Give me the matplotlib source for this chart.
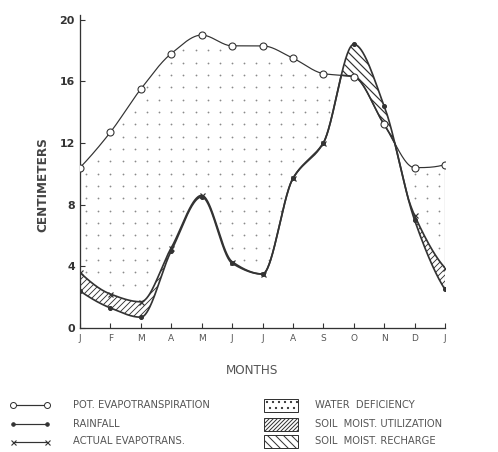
import numpy as np
import matplotlib
matplotlib.use("Agg")
import matplotlib.pyplot as plt
from matplotlib.patches import Rectangle

# ---- data (centimeters) ----
months = ["J", "F", "M", "A", "M", "J", "J", "A", "S", "O", "N", "D", "J"]
pot_et = [10.4, 12.7, 15.5, 17.8, 19.0, 18.3, 18.3, 17.5, 16.5, 16.3, 13.2, 10.4, 10.6]
rainfall = [2.4, 1.3, 0.7, 5.0, 8.5, 4.2, 3.5, 9.7, 12.0, 18.4, 14.4, 7.0, 2.5]
actual_et = [3.6, 2.2, 1.7, 5.2, 8.6, 4.3, 3.5, 9.7, 12.0, 16.3, 13.2, 7.3, 3.9]
y_ticks = [0, 4, 8, 12, 16, 20]

legend_lines = ["POT. EVAPOTRANSPIRATION", "RAINFALL", "ACTUAL EVAPOTRANS."]
legend_areas = ["WATER  DEFICIENCY", "SOIL  MOIST. UTILIZATION", "SOIL  MOIST. RECHARGE"]

INK = "#333333"
GREY = "#555555"


def pchip_slopes(x, y):
    h = np.diff(x)
    d = np.diff(y) / h
    n = len(y)
    m = np.zeros(n)
    for k in range(1, n - 1):
        if d[k - 1] * d[k] > 0:
            w1 = 2 * h[k] + h[k - 1]
            w2 = h[k] + 2 * h[k - 1]
            m[k] = (w1 + w2) / (w1 / d[k - 1] + w2 / d[k])

    def end(h0, h1, d0, d1):
        s = ((2 * h0 + h1) * d0 - h0 * d1) / (h0 + h1)
        if np.sign(s) != np.sign(d0):
            return 0.0
        if np.sign(d0) != np.sign(d1) and abs(s) > abs(3 * d0):
            return 3 * d0
        return s

    m[0] = end(h[0], h[1], d[0], d[1])
    m[-1] = end(h[-1], h[-2], d[-1], d[-2])
    return m


def smooth(xm, ym, n=60):
    """Shape-preserving cubic curve through the monthly points."""
    xm = np.asarray(xm, float)
    ym = np.asarray(ym, float)
    m = pchip_slopes(xm, ym)
    xs, ys = [], []
    for i in range(len(xm) - 1):
        t = np.linspace(0, 1, n, endpoint=False)
        h = xm[i + 1] - xm[i]
        h00 = 2 * t**3 - 3 * t**2 + 1
        h10 = t**3 - 2 * t**2 + t
        h01 = -2 * t**3 + 3 * t**2
        h11 = t**3 - t**2
        xs.append(xm[i] + t * h)
        ys.append(h00 * ym[i] + h10 * h * m[i] + h01 * ym[i + 1] + h11 * h * m[i + 1])
    xs.append([xm[-1]])
    ys.append([ym[-1]])
    return np.concatenate(xs), np.concatenate(ys)


mx = np.arange(len(months))
xf, pet_f = smooth(mx, pot_et)
_, rain_f = smooth(mx, rainfall)
_, aet_f = smooth(mx, actual_et)
lower = np.minimum(np.maximum(aet_f, rain_f), pet_f)

W, H = 498, 452
fig = plt.figure(figsize=(W / 72, H / 72), dpi=72)

ax = fig.add_axes([80 / W, (H - 328) / H, (445 - 80) / W, (328 - 15) / H])
ax.set_xlim(0, 12)
ax.set_ylim(0, 20.3)

# water deficiency (stipple of small dots between actual and potential ET)
gx, gy = np.meshgrid(np.arange(0.2, 12, 0.4), np.arange(0.4, 20.3, 0.8))
gx, gy = gx.ravel(), gy.ravel()
inside = (gy > np.interp(gx, xf, lower) + 0.35) & (gy < np.interp(gx, xf, pet_f) - 0.35)
ax.scatter(gx[inside], gy[inside], s=3.2, color="#8a8a8a", linewidths=0, zorder=1)

# soil moisture utilization
plt.rcParams["hatch.linewidth"] = 0.9
ax.fill_between(xf, rain_f, lower, where=lower > rain_f + 0.02, interpolate=True,
                facecolor="white", edgecolor=INK, hatch="////", linewidth=0, zorder=2)
# soil moisture recharge
plt.rcParams["hatch.linewidth"] = 1.2
ax.fill_between(xf, pet_f, rain_f, where=rain_f > pet_f, interpolate=True,
                facecolor="white", edgecolor=INK, hatch="\\\\\\", linewidth=0, zorder=2)

# lines
ax.plot(xf, pet_f, color=INK, lw=1.2, zorder=4)
ax.plot(xf, rain_f, color=INK, lw=1.7, zorder=4)
ax.plot(xf, lower, color=INK, lw=1.7, zorder=4)
ax.vlines(mx[-1], rainfall[-1], pot_et[-1], color=INK, lw=1.1, zorder=4)

ax.plot(mx, pot_et, "o", ms=7, mfc="white", mec=INK, mew=1.1, zorder=5)
ax.plot(mx, rainfall, "o", ms=4, mfc=INK, mec=INK, zorder=5)
aet_arr = np.array(actual_et)
show = aet_arr < np.array(pot_et) - 0.05
ax.plot(mx[show], aet_arr[show], "x", ms=5, mec=INK, mew=1.2, zorder=5)

# axes styling
for s in ("top", "right"):
    ax.spines[s].set_visible(False)
for s in ("left", "bottom"):
    ax.spines[s].set_color(INK)
    ax.spines[s].set_linewidth(1.3)
ax.set_xticks(mx)
ax.set_xticklabels(months, fontsize=9, color=GREY)
ax.set_yticks(y_ticks)
ax.set_yticklabels([str(v) for v in y_ticks], fontsize=11, fontweight="bold", color=INK)
ax.tick_params(axis="both", direction="in", length=5, width=1.1, color=INK)
ax.tick_params(axis="x", pad=6)
ax.tick_params(axis="y", pad=5)
ax.set_ylabel("CENTIMETERS", fontsize=12, fontweight="bold", color="#444444")
ax.yaxis.set_label_coords(-0.085, 0.458)
ax.set_xlabel("MONTHS", fontsize=12, color=GREY, va="center")
ax.xaxis.set_label_coords((252 - 80) / 365, -(370 - 328) / 313)

# ---- legend (drawn in pixel layout coordinates) ----
lax = fig.add_axes([0, 0, 1, 1])
lax.set_xlim(0, W)
lax.set_ylim(H, 0)
lax.axis("off")
rows = [405, 424, 441.5]
styles = [dict(marker="o", ms=6, mfc="white", mec=INK, mew=1.0),
          dict(marker="o", ms=3.5, mfc=INK, mec=INK),
          dict(marker="x", ms=5, mec=INK, mew=1.1)]
for yy, txt, st in zip(rows, legend_lines, styles):
    lax.plot([13, 47], [yy, yy], color=INK, lw=1.2, **st)
    lax.text(73, yy, txt, fontsize=10, color=GREY, va="center", ha="left")

hatches = ["..", "//////", "\\\\\\"]
plt.rcParams["hatch.linewidth"] = 1.0
for yy, txt, hh in zip(rows, legend_areas, hatches):
    lax.add_patch(Rectangle((264, yy - 6.5), 34, 13, facecolor="white",
                            edgecolor=INK, hatch=hh, lw=1.0))
    lax.text(315, yy, txt, fontsize=10, color=GREY, va="center", ha="left")

fig.savefig("out.png", dpi=72)
